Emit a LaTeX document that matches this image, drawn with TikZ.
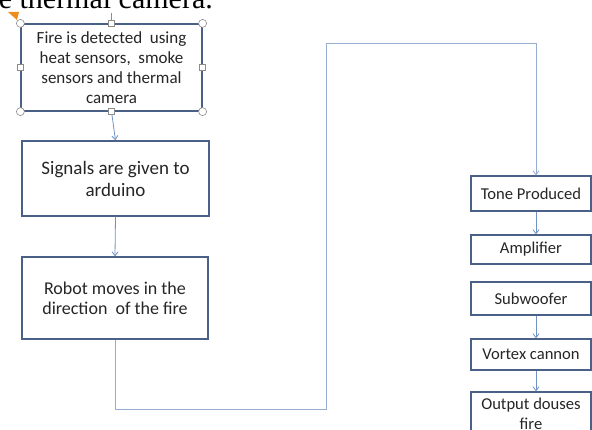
\documentclass[tikz,border=0pt]{standalone}
\usepackage{fontspec}
\setmainfont{Carlito}
\newfontfamily\pageserif{Liberation Serif}
\usetikzlibrary{arrows.meta}

\definecolor{boxline}{RGB}{74,96,134}
\definecolor{linkline}{RGB}{112,146,196}
\definecolor{paleline}{RGB}{150,172,208}
\definecolor{gripline}{RGB}{140,140,140}
\definecolor{inktext}{RGB}{38,38,38}
\definecolor{markorange}{RGB}{240,140,30}

\begin{document}
\begin{tikzpicture}[x=1pt,y=-1pt]

% Box and connector looks
\tikzset{
    block/.style={draw=boxline, line width=1.2pt, fill=white, text=inktext,
        align=center, inner sep=0pt},
    link/.style={draw=linkline, line width=0.8pt,
        -{Straight Barb[length=4pt,width=6pt]}},
    grip/.style={draw=gripline, fill=white, line width=0.6pt},
}
\useasboundingbox (0,0) rectangle (592,430);

% Page text cut at the top
\node
[
    anchor=base east,
    inner sep=0pt,
    font=\pageserif\fontsize{30}{36}\selectfont
] (pagetext) at (213,9) {e thermal camera.};

% Left column
\node[block, minimum width=181pt, minimum height=87pt,
    font=\fontsize{17}{20}\selectfont] (detect) at (111.5,67.5)
    {Fire is detected\ \ using\\heat sensors,\ \ smoke\\sensors and thermal\\camera};
\node[block, minimum width=187pt, minimum height=75pt,
    font=\fontsize{19}{22}\selectfont] (signal) at (115.5,178.5)
    {Signals are given to\\arduino};
\node[block, minimum width=186pt, minimum height=82pt,
    font=\fontsize{18}{20}\selectfont] (robot) at (115,298)
    {Robot moves in the\\direction\ \ of the fire};

% Right column
\node[block, minimum width=120pt, minimum height=35pt,
    font=\fontsize{16.6}{20}\selectfont] (tone) at (531,193.5) {Tone Produced};
\node[block, minimum width=120pt, minimum height=29pt,
    font=\fontsize{16.6}{20}\selectfont] (amp) at (531,249.5) {Amplifier};
\node[block, minimum width=120pt, minimum height=33pt,
    font=\fontsize{16.6}{20}\selectfont] (sub) at (531,298.5) {Subwoofer};
\node[block, minimum width=120pt, minimum height=31pt,
    font=\fontsize{16.6}{20}\selectfont] (vortex) at (531,354.5) {Vortex cannon};
\node[block, minimum width=120pt, minimum height=44pt,
    font=\fontsize{16.6}{20}\selectfont] (douse) at (531,414) {Output douses\\fire};

% Connectors
\draw[link] (detect.south) -- (signal.north);
\draw[link] (signal.south) -- (robot.north);
\coordinate (lowbend) at (326,409);
\coordinate (highbend) at (326,43);
\draw[link, draw=paleline] (robot.south) |- (lowbend) -- (highbend)
    -| ([xshift=5pt]tone.north);
\draw[link] ([xshift=5pt]tone.south) -- ([xshift=5pt]amp.north);
\draw[link] ([xshift=5pt]sub.south) -- ([xshift=5pt]vortex.north);
\draw[link] ([xshift=5pt]vortex.south) -- ([xshift=5pt]douse.north);

% Selection handles
\draw[gripline, line width=0.6pt] (detect.north) -- ++(0,-10);
\foreach \c in {north west, north east, south west, south east}
    \draw[grip] (detect.\c) circle (4pt);
\foreach \m in {north, south, west, east}
    \draw[grip] ([shift={(-3,-3)}]detect.\m) rectangle ++(6,6);
\fill[markorange] (8,12) -- (19,12) -- (17,20) -- cycle;
\end{tikzpicture}
\end{document}
